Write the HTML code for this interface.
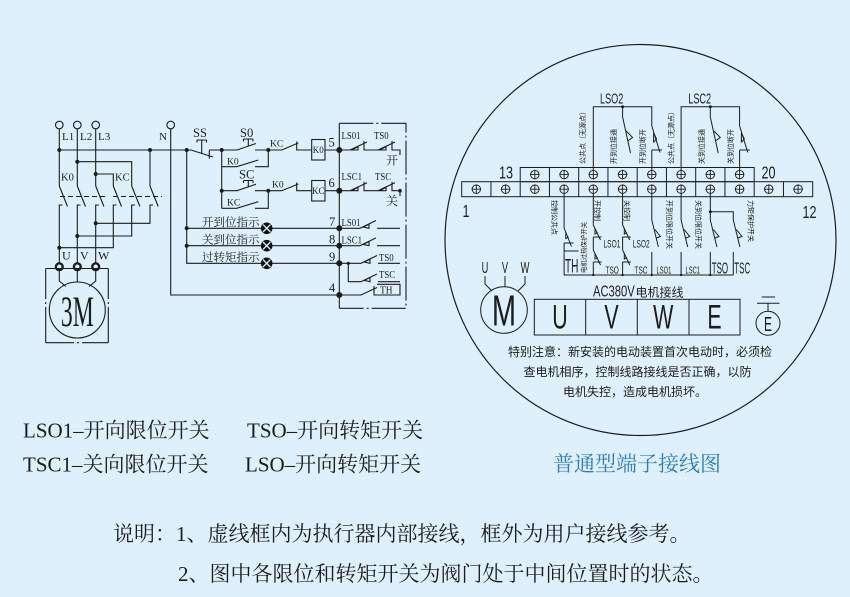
<!DOCTYPE html>
<html><head><meta charset="utf-8">
<style>
html,body{margin:0;padding:0;background:#def0fb;width:850px;height:597px;overflow:hidden}
svg{display:block}
.sf{font-family:"Liberation Serif","Noto Serif CJK SC",serif;fill:#1c1c1c}
.sn{font-family:"Liberation Sans","Noto Sans CJK SC",sans-serif;fill:#1c1c1c}
</style></head><body>
<svg xmlns="http://www.w3.org/2000/svg" width="850" height="597" viewBox="0 0 850 597">
<rect width="850" height="597" fill="#def0fb"/>

<!-- ================= LEFT DIAGRAM ================= -->
<g fill="none" stroke="#1c1c1c" stroke-width="1.1">
  <circle cx="59.3" cy="125" r="3.8"/>
  <circle cx="77.3" cy="125" r="3.8"/>
  <circle cx="95.7" cy="125" r="3.8"/>
  <circle cx="170.7" cy="125" r="3.8"/>
  <path d="M59.3 128.8V186 M77.3 128.8V186 M95.7 128.8V186 M170.7 128.8V295H339.3 M59.3 150H191 M77.3 161.7H131.7V186 M95.7 174H113.3V186 M150 150V186"/>
  <path d="M59.3 186L67.5 206.5 M77.3 186L85.5 206.5 M95.7 186L103.9 206.5 M113.3 186L121.5 206.5 M131.7 186L139.9 206.5 M150 186L158.2 206.5"/>
  <path d="M62.5 205H59.3V263 M80.5 205H77.3V263 M98.9 205H95.7V263 M116.5 205H113.3V247.7H59.3 M134.9 205H131.7V236H77.3 M153.2 205H150V223.3H95.7"/>
  <path d="M60 196.5H106 M113 196.5H162" stroke-dasharray="5 3"/>
  <!-- motor terminals -->
  <circle cx="59.3" cy="266.7" r="3.4" stroke-width="2.4" fill="#def0fb"/>
  <circle cx="77.3" cy="266.7" r="3.4" stroke-width="2.4" fill="#def0fb"/>
  <circle cx="95.7" cy="266.7" r="3.4" stroke-width="2.4" fill="#def0fb"/>
  <path d="M45.7 268.5H108.3 M45.7 268.5V299 M45.7 302V304 M45.7 307V342.7 M108.3 268.5V299 M108.3 302V304 M108.3 307V342.7 M45.7 342.7H74 M77 342.7H79 M82 342.7H108.3"/>
  <path d="M59.3 270V281L66 286.5 M77.3 270V282 M95.7 270V281L89 286.5"/>
  <circle cx="77.3" cy="310" r="28"/>

  <!-- control circuit -->
  <path d="M186.7 150H191L213 157 M209.3 150V158.5 M209.3 150H221.7 M201.7 140V153.5 M197 140H206.5 M197 140V142.5 M206.5 140V142.5"/>
  <path d="M221.7 150V208.3"/>
  <!-- S0 -->
  <path d="M221.7 150H237L256 143.5 M255 150H268.3 M248.3 139V146.5 M243.5 139H253 M243.5 139V141.5 M253 139V141.5"/>
  <!-- K0 parallel -->
  <path d="M221.7 166.7H236.7L258.3 160 M255 166.7H268.3V150"/>
  <!-- SC -->
  <path d="M221.7 190.7H237L256 184.2 M255 190.7H268.3 M248.3 180.5V187.5 M243.5 180.5H253 M243.5 180.5V183 M253 180.5V183"/>
  <!-- KC parallel -->
  <path d="M221.7 208.3H236.7L258.3 201.7 M255 208.3H268.3V190.7"/>
  <!-- row 5 -->
  <path d="M268.3 150H281.7L298.3 143 M296.7 141.5V150H311.7 M325 150H339.3"/>
  <rect x="311.7" y="139.5" width="13.3" height="20.5"/>
  <!-- row 6 -->
  <path d="M268.3 190.7H281.7L298.3 184 M296.7 182.5V190.7H311.7 M325 190.7H339.3"/>
  <rect x="311.7" y="180.5" width="13.3" height="20.5"/>
  <!-- right bus & dashed box -->
  <path d="M339.3 123.3V308.3"/>
  <path d="M339.3 123.3H406V308.3H339.3" stroke-dasharray="34 3 2 3"/>
  <!-- row 5 contacts -->
  <path d="M339.3 150H350L367 142 M364 141V150H378L395 142 M392 141V150H400V155"/>
  <path d="M352 150L358 150L358 146.5Z M380 150L386 150L386 146.5Z"/>
  <!-- row 6 contacts -->
  <path d="M339.3 190.7H350L367 182.7 M364 181.7V190.7H378L395 182.7 M392 181.7V190.7H400V196"/>
  <path d="M352 190.7L358 190.7L358 187.2Z M380 190.7L386 190.7L386 187.2Z"/>
  <!-- left vertical & indicator rows -->
  <path d="M186.7 150V263.3H261 M186.7 228.3H261 M186.7 245.7H261 M272.4 228.3H339.3 M272.4 245.7H339.3 M272.4 263.3H339.3"/>
  <!-- row 7 / 8 NO contacts -->
  <path d="M339.3 228.3H360L376 220.5 M377 228.3H400 M339.3 245.7H360L376 237.9 M377 245.7H400"/>
  <path d="M363 227L369 224.2L369 228.3Z M363 244.4L369 241.6L369 245.7Z"/>
  <!-- row 9 -->
  <path d="M339.3 263.3H361L377 255.5 M378 263.3H400 M348.3 263.3V281.7H361L377 274 M378 281.7H400"/>
  <path d="M364 262L370 259.2L370 263.3Z M364 280.4L370 277.6L370 281.7Z"/>
  <!-- row 4 TH -->
  <path d="M339.3 295H361L377 287.5 M374 286V295H400V284.3H377"/>
</g>
<!-- left dots -->
<g fill="#1c1c1c">
  <circle cx="59.3" cy="150" r="2"/><circle cx="77.3" cy="161.7" r="2"/><circle cx="95.7" cy="174" r="2"/>
  <circle cx="150" cy="150" r="2"/><circle cx="186.7" cy="150" r="2"/>
  <circle cx="59.3" cy="247.7" r="2"/><circle cx="77.3" cy="236" r="2"/><circle cx="95.7" cy="223.3" r="2"/>
  <circle cx="221.7" cy="150" r="2"/><circle cx="221.7" cy="190.7" r="2"/>
  <circle cx="268.3" cy="150" r="2"/><circle cx="268.3" cy="190.7" r="2"/>
  <circle cx="186.7" cy="228.3" r="2"/><circle cx="186.7" cy="245.7" r="2"/>
  <circle cx="339.3" cy="150" r="3"/><circle cx="339.3" cy="190.7" r="3"/>
  <circle cx="339.3" cy="228.3" r="3"/><circle cx="339.3" cy="245.7" r="3"/>
  <circle cx="339.3" cy="263.3" r="3"/><circle cx="339.3" cy="295" r="3"/>
  <circle cx="348.3" cy="263.3" r="1.6"/><circle cx="400" cy="190.7" r="1.8"/>
</g>
<!-- lamps -->
<g>
  <circle cx="266.7" cy="228.3" r="5.8" fill="#111"/>
  <path d="M263 224.6L270.4 232 M263 232L270.4 224.6" stroke="#def0fb" stroke-width="1.3"/>
  <circle cx="266.7" cy="245.7" r="5.8" fill="#111"/>
  <path d="M263 242L270.4 249.4 M263 249.4L270.4 242" stroke="#def0fb" stroke-width="1.3"/>
  <circle cx="266.7" cy="263.3" r="5.8" fill="#111"/>
  <path d="M263 259.6L270.4 267 M263 267L270.4 259.6" stroke="#def0fb" stroke-width="1.3"/>
</g>
<!-- left labels -->
<g class="sf" font-size="11">
  <text x="62" y="140">L1</text><text x="80" y="140">L2</text><text x="98" y="140">L3</text>
  <text x="167" y="140" text-anchor="end">N</text>
  <text x="61" y="180.5" font-size="10.5">K0</text><text x="115" y="180.5" font-size="10.5">KC</text>
  <text x="62" y="259.5" font-size="12">U</text><text x="80" y="259.5" font-size="12">V</text><text x="98" y="259.5" font-size="12">W</text>
  <text transform="translate(77.3,326) scale(0.55,1)" text-anchor="middle" font-size="43">3M</text>
  <text x="193" y="137" font-size="12.5">SS</text>
  <text x="240" y="137" font-size="12.5">S0</text>
  <text x="239" y="178.5" font-size="12.5">SC</text>
  <text x="227" y="164.5" font-size="9.5">K0</text>
  <text x="227" y="205.5" font-size="9.5">KC</text>
  <text x="270" y="146.5" font-size="9.5">KC</text>
  <text x="272" y="187.5" font-size="9.5">K0</text>
  <text x="318.3" y="153.2" font-size="9" text-anchor="middle">K0</text>
  <text x="318.3" y="194" font-size="9" text-anchor="middle">KC</text>
  <text x="328.5" y="146.5" font-size="12.5">5</text>
  <text x="328.5" y="187" font-size="12.5">6</text>
  <text x="329" y="226" font-size="12.5">7</text>
  <text x="329" y="243.5" font-size="12.5">8</text>
  <text x="329" y="261" font-size="12.5">9</text>
  <text x="329" y="292" font-size="12.5">4</text>
  <text transform="translate(341.5,139) scale(0.8,1)">LS01</text>
  <text transform="translate(374,139) scale(0.8,1)">TS0</text>
  <text transform="translate(341.5,180) scale(0.8,1)">LSC1</text>
  <text transform="translate(375,180) scale(0.8,1)">TSC</text>
  <text transform="translate(341.5,226) scale(0.8,1)">LS01</text>
  <text transform="translate(341.5,243.3) scale(0.8,1)">LSC1</text>
  <text transform="translate(379,261) scale(0.8,1)">TS0</text>
  <text transform="translate(379,278) scale(0.8,1)">TSC</text>
  <text transform="translate(380,293.5) scale(0.85,1)">TH</text>
  <text x="386" y="164.5" font-size="12">开</text>
  <text x="386" y="205" font-size="12">关</text>
  <text x="259.5" y="226" font-size="11.5" text-anchor="end">开到位指示</text>
  <text x="259.5" y="243.5" font-size="11.5" text-anchor="end">关到位指示</text>
  <text x="259.5" y="261" font-size="11.5" text-anchor="end">过转矩指示</text>
</g>

<!-- ================= RIGHT DIAGRAM ================= -->
<g fill="none" stroke="#1c1c1c" stroke-width="1">
  <circle cx="640.5" cy="240" r="195.5" stroke-width="1.2"/>
  <rect x="461.7" y="181.7" width="351" height="15"/>
  <path d="M490.95 181.7V196.7 M520.2 181.7V196.7 M549.45 181.7V196.7 M578.7 181.7V196.7 M607.95 181.7V196.7 M637.2 181.7V196.7 M666.45 181.7V196.7 M695.7 181.7V196.7 M724.95 181.7V196.7 M754.2 181.7V196.7 M783.45 181.7V196.7"/>
  <rect x="520.2" y="167.5" width="234" height="14.2"/>
  <path d="M549.45 167.5V181.7 M578.7 167.5V181.7 M607.95 167.5V181.7 M637.2 167.5V181.7 M666.45 167.5V181.7 M695.7 167.5V181.7 M724.95 167.5V181.7"/>
  <!-- bottom row terminals -->
  <g stroke-width="0.9">
    <circle cx="476.3" cy="189.2" r="4.2"/><circle cx="505.6" cy="189.2" r="4.2"/><circle cx="534.8" cy="189.2" r="4.2"/><circle cx="564.1" cy="189.2" r="4.2"/>
    <circle cx="593.3" cy="189.2" r="4.2"/><circle cx="622.6" cy="189.2" r="4.2"/><circle cx="651.8" cy="189.2" r="4.2"/><circle cx="681.1" cy="189.2" r="4.2"/>
    <circle cx="710.3" cy="189.2" r="4.2"/><circle cx="739.6" cy="189.2" r="4.2"/><circle cx="768.8" cy="189.2" r="4.2"/><circle cx="798.1" cy="189.2" r="4.2"/>
    <path d="M471.5 189.2h9.6M476.3 184.4v9.6 M500.8 189.2h9.6M505.6 184.4v9.6 M530 189.2h9.6M534.8 184.4v9.6 M559.3 189.2h9.6M564.1 184.4v9.6 M588.5 189.2h9.6M593.3 184.4v9.6 M617.8 189.2h9.6M622.6 184.4v9.6 M647 189.2h9.6M651.8 184.4v9.6 M676.3 189.2h9.6M681.1 184.4v9.6 M705.5 189.2h9.6M710.3 184.4v9.6 M734.8 189.2h9.6M739.6 184.4v9.6 M764 189.2h9.6M768.8 184.4v9.6 M793.3 189.2h9.6M798.1 184.4v9.6"/>
    <circle cx="534.8" cy="174.6" r="4.2"/><circle cx="564.1" cy="174.6" r="4.2"/><circle cx="593.3" cy="174.6" r="4.2"/><circle cx="622.6" cy="174.6" r="4.2"/>
    <circle cx="651.8" cy="174.6" r="4.2"/><circle cx="681.1" cy="174.6" r="4.2"/><circle cx="710.3" cy="174.6" r="4.2"/><circle cx="739.6" cy="174.6" r="4.2"/>
    <path d="M530 174.6h9.6M534.8 169.8v9.6 M559.3 174.6h9.6M564.1 169.8v9.6 M588.5 174.6h9.6M593.3 169.8v9.6 M617.8 174.6h9.6M622.6 169.8v9.6 M647 174.6h9.6M651.8 169.8v9.6 M676.3 174.6h9.6M681.1 169.8v9.6 M705.5 174.6h9.6M710.3 169.8v9.6 M734.8 174.6h9.6M739.6 169.8v9.6"/>
  </g>
  <!-- upper wiring LSO2 -->
  <path d="M593.3 170.4V106.7H651.8V126 M622.6 106.7V117 M622.6 117L630.5 153 M651.8 126L660 152.5 M651.8 150H662 M651.8 150V170.4"/>
  <path d="M626.2 131L632.6 137.5L628.2 140.5 M653.6 133L653.6 142L656.6 139Z"/>
  <!-- upper wiring LSC2 -->
  <path d="M681.1 170.4V106.7H739.6V126 M710.3 106.7V117 M710.3 117L718.2 153 M739.6 126L747.8 152.5 M739.6 150H749.8 M739.6 150V170.4"/>
  <path d="M713.9 131L720.3 137.5L715.9 140.5 M741.4 133L741.4 142L744.4 139Z"/>
  <!-- lower wiring -->
  <path d="M564.1 193.4V228 M564.1 228L571.5 246.5 M564.1 243H573.5 M564.1 243V275H733.3 M564.1 251H578.5"/>
  <path d="M565.8 232L565.8 238.5L568.6 237"/>
  <path d="M593.3 193.4V225 M593.3 225L600.5 240 M593.3 237H601.5 M593.3 237V250 M593.3 250L600.5 265 M593.3 262H601.5 M593.3 262V275"/>
  <path d="M595 228.5L595 234L597.7 232.6 M595 253.5L595 259L597.7 257.6"/>
  <path d="M622.6 193.4V225 M622.6 225L629.8 240 M622.6 237H630.8 M622.6 237V250 M622.6 250L629.8 265 M622.6 262H630.8 M622.6 262V275"/>
  <path d="M624.3 228.5L624.3 234L627 232.6 M624.3 253.5L624.3 259L627 257.6"/>
  <path d="M651.8 193.4V220L658.4 247 M651.8 252V275 M681.1 193.4V220L687.7 247 M681.1 252V275"/>
  <path d="M654.9 229.5L660.4 236.5L656.5 238 M684.2 229.5L689.7 236.5L685.8 238"/>
  <path d="M710.3 193.4V211.7H733.3V220L739.9 247 M710.3 211.7V220L716.9 247 M710.3 252V275 M733.3 252V275"/>
  <path d="M713.4 229.5L718.9 236.5L715 238 M736.4 229.5L741.9 236.5L738 238"/>
  <!-- motor M -->
  <circle cx="504" cy="310" r="23.3"/>
  <path d="M485 276V284L492 291 M505 276V286.7 M525 276V284L518 291"/>
  <!-- UVWE table -->
  <rect x="534.3" y="299.3" width="205.7" height="35.7"/>
  <path d="M585.7 299.3V335 M637.3 299.3V335 M689 299.3V335"/>
  <!-- ground -->
  <path d="M761.7 297H775 M757 303.3H779.5 M768 303.3V311.3"/>
  <circle cx="768" cy="323.3" r="12"/>
</g>
<g fill="#1c1c1c">
  <circle cx="622.6" cy="106.7" r="1.5"/><circle cx="710.3" cy="106.7" r="1.5"/><circle cx="710.3" cy="211.7" r="1.5"/>
  <circle cx="593.3" cy="275" r="1.2"/><circle cx="622.6" cy="275" r="1.2"/><circle cx="651.8" cy="275" r="1.2"/><circle cx="681.1" cy="275" r="1.2"/><circle cx="710.3" cy="275" r="1.2"/>
</g>
<!-- right labels -->
<g class="sn">
  <text transform="translate(499,178.3) scale(0.7,1)" font-size="18">13</text>
  <text transform="translate(761.5,178.3) scale(0.7,1)" font-size="18">20</text>
  <text transform="translate(462.5,217) scale(0.7,1)" font-size="18">1</text>
  <text transform="translate(802.5,218) scale(0.7,1)" font-size="18">12</text>
  <text transform="translate(600,103.3) scale(0.62,1)" font-size="14.7">LSO2</text>
  <text transform="translate(688.3,103.3) scale(0.62,1)" font-size="14.7">LSC2</text>
  <g font-size="7">
    <text transform="translate(585,164) rotate(-90)">公共点（无源点）</text>
    <text transform="translate(616,164) rotate(-90)">开到位接通</text>
    <text transform="translate(645,164) rotate(-90)">开到位断开</text>
    <text transform="translate(673.5,164) rotate(-90)">公共点（无源点）</text>
    <text transform="translate(704,164) rotate(-90)">关到位接通</text>
    <text transform="translate(733,164) rotate(-90)">关到位断开</text>
    <text transform="translate(552,200) rotate(90)">控制公共点</text>
    <text transform="translate(595,200) rotate(90)">开控制</text>
    <text transform="translate(624.5,200) rotate(90)">关控制</text>
    <text transform="translate(667,200) rotate(90)">开到位限位开关</text>
    <text transform="translate(696,200) rotate(90)">关到位限位开关</text>
    <text transform="translate(748.5,200) rotate(90)">力矩保护开关</text>
    <text transform="translate(586,273) rotate(-90)" font-size="6.4">电机过热保护开关</text>
  </g>
  <text transform="translate(565,272.3) scale(0.53,1)" font-size="19">TH</text>
  <text transform="translate(603.5,247.5) scale(0.6,1)" font-size="11">LSO1</text>
  <text transform="translate(632.8,247.5) scale(0.6,1)" font-size="11">LSO2</text>
  <text transform="translate(605.5,273.5) scale(0.65,1)" font-size="10">TSO</text>
  <text transform="translate(634.5,273.5) scale(0.65,1)" font-size="10">TSC</text>
  <text transform="translate(656.5,273.5) scale(0.58,1)" font-size="10">LSO1</text>
  <text transform="translate(685.5,273.5) scale(0.58,1)" font-size="10">LSC1</text>
  <text transform="translate(711.7,273.5) scale(0.5,1)" font-size="16">TSO</text>
  <text transform="translate(734.3,273.5) scale(0.5,1)" font-size="16">TSC</text>
  <text transform="translate(485,273) scale(0.58,1)" font-size="16" text-anchor="middle">U</text>
  <text transform="translate(505,273) scale(0.58,1)" font-size="16" text-anchor="middle">V</text>
  <text transform="translate(525,273) scale(0.58,1)" font-size="16" text-anchor="middle">W</text>
  <text transform="translate(504,325.5) scale(0.66,1)" font-size="44" text-anchor="middle">M</text>
  <text transform="translate(560,328.3) scale(0.62,1)" font-size="34.5" text-anchor="middle">U</text>
  <text transform="translate(611.5,328.3) scale(0.62,1)" font-size="34.5" text-anchor="middle">V</text>
  <text transform="translate(663.2,328.3) scale(0.62,1)" font-size="34.5" text-anchor="middle">W</text>
  <text transform="translate(714.5,328.3) scale(0.62,1)" font-size="34.5" text-anchor="middle">E</text>
  <text transform="translate(593,296.5) scale(0.7,1)" font-size="16">AC380V</text>
  <text x="635.5" y="296.5" font-size="12">电机接线</text>
  <text transform="translate(768,331) scale(0.6,1)" font-size="20" text-anchor="middle">E</text>
  <g font-size="12">
    <text x="508" y="356">特别注意：新安装的电动装置首次电动时，必须检</text>
    <text x="523.5" y="376">查电机相序，控制线路接线是否正确，以防</text>
    <text x="563" y="396">电机失控，造成电机损坏。</text>
  </g>
</g>

<!-- ================= BOTTOM TEXT ================= -->
<g class="sf" font-size="21">
  <text x="23" y="437.5">LSO1–开向限位开关</text>
  <text x="247" y="437.5">TSO–开向转矩开关</text>
  <text x="23" y="471.5">TSC1–关向限位开关</text>
  <text x="245" y="471.5">LSO–开向转矩开关</text>
  <text x="553" y="471" fill="#2a7db8" style="fill:#2a7db8">普通型端子接线图</text>
  <text x="113" y="541">说明：1、虚线框内为执行器内部接线，框外为用户接线参考。</text>
  <text x="178" y="581">2、图中各限位和转矩开关为阀门处于中间位置时的状态。</text>
</g>
</svg>
</body></html>
